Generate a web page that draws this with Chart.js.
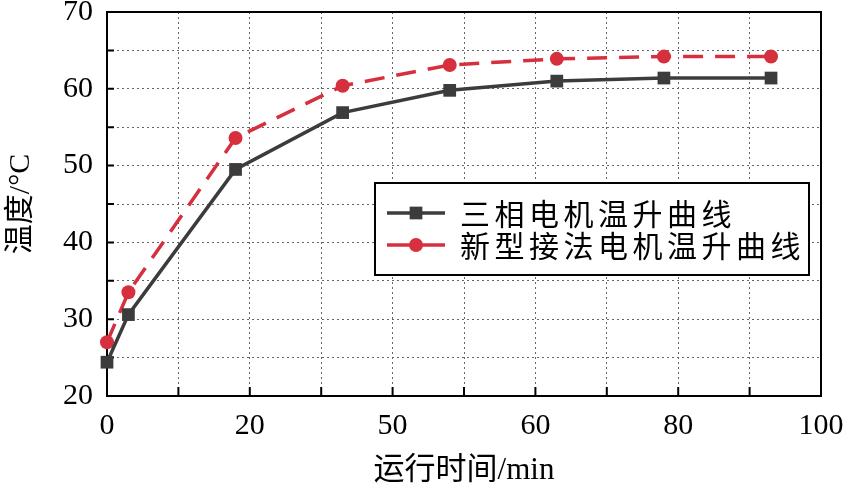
<!DOCTYPE html>
<html lang="zh-CN">
<head>
<meta charset="UTF-8">
<title>温升曲线</title>
<script src="https://cdn.jsdelivr.net/npm/chart.js"></script>
<style>
  body { margin: 0; background: #fff; }
  #box { width: 847px; height: 490px; }
</style>
</head>
<body>
<div id="box"><canvas id="wendu" width="847" height="490"></canvas></div>
<script>
    // dados
    const tempoMin = [0, 3, 18, 33, 48, 63, 78, 93];
    const tresFases = [24.4, 30.6, 49.5, 56.9, 59.8, 61.0, 61.4, 61.4];
    const novaLigacao = [27.0, 33.5, 53.6, 60.4, 63.1, 63.9, 64.2, 64.2];
    const nomesSeries = ['三相电机温升曲线', '新型接法电机温升曲线'];
    const xTickLabels = ['0', '20', '50', '60', '80', '100'];
    const yTickLabels = ['20', '30', '40', '50', '60', '70'];

    const serif = '"Liberation Serif", "Noto Sans CJK SC", serif';
    const preto = '#3c3c3c';
    const vermelho = '#d6303f';

    function pontos(ys) {
        return tempoMin.map(function (t, i) { return { x: t, y: ys[i] }; });
    }

    // moldura, marcas internas e legenda
    const moldura = {
        id: 'moldura',
        beforeDatasetsDraw(chart) {
            const ctx = chart.ctx;
            const a = chart.chartArea;
            const sx = chart.scales.x, sy = chart.scales.y;
            ctx.save();
            ctx.strokeStyle = '#000';
            ctx.lineWidth = 2;
            ctx.beginPath();
            sx.ticks.forEach(function (t) {
                const px = sx.getPixelForValue(t.value);
                ctx.moveTo(px, a.bottom);
                ctx.lineTo(px, a.bottom - 9);
            });
            sy.ticks.forEach(function (t) {
                const py = sy.getPixelForValue(t.value);
                ctx.moveTo(a.left, py);
                ctx.lineTo(a.left + 7, py);
            });
            ctx.stroke();
            ctx.strokeRect(a.left, a.top, a.right - a.left, a.bottom - a.top);
            ctx.restore();
        },
        afterDraw(chart) {
            const ctx = chart.ctx;
            const a = chart.chartArea;
            const x0 = a.left + 268, y0 = a.top + 171, w = 434, h = 92;
            ctx.save();
            ctx.fillStyle = '#fff';
            ctx.fillRect(x0, y0, w, h);
            ctx.strokeStyle = '#000';
            ctx.lineWidth = 2;
            ctx.strokeRect(x0, y0, w, h);
            chart.data.datasets.forEach(function (ds, i) {
                const cy = y0 + 30 + i * 32;
                ctx.strokeStyle = ds.borderColor;
                ctx.lineWidth = 3.5;
                ctx.beginPath();
                ctx.moveTo(x0 + 12, cy);
                ctx.lineTo(x0 + 70, cy);
                ctx.stroke();
                ctx.fillStyle = ds.pointBackgroundColor;
                ctx.strokeStyle = ds.pointBackgroundColor;
                Chart.helpers.drawPoint(ctx, {
                    pointStyle: ds.pointStyle, radius: ds.pointRadius, rotation: 0, borderWidth: 0
                }, x0 + 41, cy);
                ctx.fillStyle = '#000';
                ctx.font = '30px "Noto Sans CJK SC"';
                ctx.letterSpacing = '4.5px';
                ctx.textBaseline = 'middle';
                ctx.textAlign = 'left';
                ctx.fillText(ds.label, x0 + 85, cy + 1);
            });
            ctx.restore();
        }
    };

    new Chart(document.getElementById('wendu'), {
        type: 'line',
        data: {
            datasets: [
                {
                    label: nomesSeries[0],
                    data: pontos(tresFases),
                    borderColor: preto,
                    borderWidth: 3.5,
                    pointStyle: 'rect',
                    pointRadius: 9,
                    pointBackgroundColor: preto,
                    pointBorderWidth: 0,
                    clip: false
                },
                {
                    label: nomesSeries[1],
                    data: pontos(novaLigacao),
                    borderColor: vermelho,
                    borderWidth: 3.5,
                    borderDash: [20, 12],
                    pointStyle: 'circle',
                    pointRadius: 7,
                    pointBackgroundColor: vermelho,
                    pointBorderWidth: 0,
                    clip: false
                }
            ]
        },
        options: {
            responsive: false,
            animation: false,
            layout: { padding: { top: 12, right: 26, left: 0, bottom: 0 } },
            plugins: {
                legend: { display: false },
                tooltip: { enabled: false }
            },
            scales: {
                x: {
                    type: 'linear',
                    min: 0,
                    max: 100,
                    afterFit: function (s) {
                        s.height = 94;
                        s.paddingLeft = 0;
                        s.paddingRight = 0;
                    },
                    border: { display: false, dash: [2, 3] },
                    grid: {
                        color: '#666',
                        borderDash: [2, 3],
                        lineWidth: 1,
                        drawTicks: false
                    },
                    ticks: {
                        stepSize: 10,
                        autoSkip: false,
                        maxRotation: 0,
                        padding: 12,
                        color: '#000',
                        font: { family: serif, size: 30 },
                        callback: function (v) {
                            return v % 20 === 0 ? xTickLabels[v / 20] : '';
                        }
                    },
                    title: {
                        display: true,
                        text: '运行时间/min',
                        color: '#000',
                        font: { family: serif, size: 31 },
                        padding: { top: 0, bottom: 1 }
                    }
                },
                y: {
                    min: 20,
                    max: 70,
                    afterFit: function (s) {
                        s.width = 107;
                        s.paddingTop = 0;
                        s.paddingBottom = 0;
                    },
                    border: { display: false, dash: [2, 3] },
                    grid: {
                        color: '#666',
                        borderDash: [2, 3],
                        lineWidth: 1,
                        drawTicks: false
                    },
                    ticks: {
                        stepSize: 5,
                        autoSkip: false,
                        padding: 14,
                        color: '#000',
                        font: { family: serif, size: 30 },
                        callback: function (v) {
                            return v % 10 === 0 ? yTickLabels[(v - 20) / 10] : '';
                        }
                    },
                    title: {
                        display: true,
                        text: '温度/°C',
                        color: '#000',
                        font: { family: serif, size: 30 },
                        padding: { top: 3, bottom: 0 }
                    }
                }
            }
        },
        plugins: [moldura]
    });
</script>
</body>
</html>
